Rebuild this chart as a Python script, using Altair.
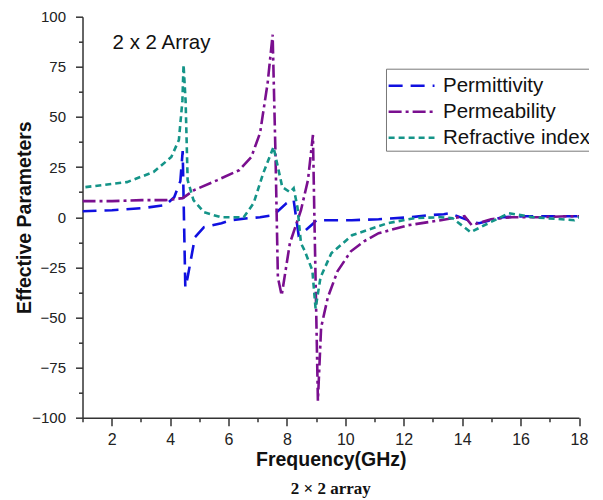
import altair as alt
import pandas as pd

series_names = ["Permittivity", "Permeability", "Refractive index"]
series_colors = ["#1010e0", "#7a0f8f", "#149488"]
series_dashes = [[14, 8], [13, 4, 3, 4], [6, 4]]

perm_x = [1, 2.01, 3.03, 3.84, 4.14, 4.35, 4.43, 4.52, 4.6, 4.85, 5.16, 5.76, 6.07, 6.68, 7.08, 7.54, 7.99, 8.23, 8.4, 8.6, 8.91, 9.01, 9.62, 10.22, 11.14, 12.25, 12.86, 13.37, 13.57, 14.38, 14.58, 15.39, 16.2, 17.2, 18]
perm_y = [3, 3.5, 4.5, 6, 10, 18, 33, -35, -30, -10, -5, -3, -1.5, -0.5, 0, 1, 7, 8.5, -9, -7, -3, -1.5, -1.5, -1.5, -1, 0, 1, 1.5, 2, -2.5, -3, 0, 0.5, 0.5, 0.5]

mu_x = [1, 2.01, 3.03, 3.84, 4.43, 4.82, 5.62, 6.37, 6.78, 7.08, 7.34, 7.51, 7.61, 7.69, 7.82, 8.1, 8.48, 8.72, 8.89, 8.94, 9.06, 9.17, 9.4, 9.73, 10.19, 10.64, 11.14, 12.15, 13.27, 13.67, 14.08, 14.33, 14.99, 15.7, 16.7, 17.7, 18]
mu_y = [8, 8, 8.5, 8.5, 9.5, 13.5, 18.5, 23.5, 30, 42, 67, 91, 30, -30, -39, -13, 3.5, 18.5, 41, 0, -91.5, -55, -40, -27, -17, -12, -8, -4, -1.5, -0.5, 0.5, -4, -1, 0, 0, 0.5, 0.5]

n_x = [1.1, 2.52, 3.43, 4.04, 4.3, 4.42, 4.46, 4.53, 4.6, 4.8, 5.16, 5.73, 6.52, 6.86, 7.19, 7.54, 7.69, 7.84, 8.1, 8.23, 8.36, 8.48, 8.6, 8.87, 8.98, 9.15, 9.52, 10.23, 11.45, 12.36, 13.27, 13.67, 14.29, 14.9, 15.6, 16.42, 17.84, 18]
n_y = [15, 17.5, 22.5, 30, 38.5, 58, 76, 58, 18.5, 8.5, 2.5, 0, 0, 7, 22, 35, 25, 15, 12.5, 14.5, 5, -13, -16.5, -26.5, -45.5, -30, -18, -9, -3, -0.5, 0, -0.5, -7.5, -3, 2, 0, -1.5, 0]

x_ticks = [1, 2, 3, 4, 5, 6, 7, 8, 9, 10, 11, 12, 13, 14, 15, 16, 17, 18]
y_ticks = [-100, -87.5, -75, -62.5, -50, -37.5, -25, -12.5, 0, 12.5, 25, 37.5, 50, 62.5, 75, 87.5, 100]

note_text = ["2 x 2 Array"]
note_x = [2.03]
note_y = [87]

rows = []
for name, xs, ys in zip(series_names, [perm_x, mu_x, n_x], [perm_y, mu_y, n_y]):
    for i, (a, b) in enumerate(zip(xs, ys)):
        rows.append({"series": name, "f": a, "v": b, "i": i})
df = pd.DataFrame(rows)

FONT = "Liberation Sans"

xscale = alt.Scale(domain=[1, 18], nice=False, zero=False)
yscale = alt.Scale(domain=[-100, 100], nice=False)

x_major = "datum.value % 2 === 0"
y_major = "datum.value % 25 === 0"

xaxis = alt.Axis(title="Frequency(GHz)", values=x_ticks, grid=False,
                 labelExpr=f"{x_major} ? format(datum.value, 'd') : ''",
                 labelOverlap=False, labelFlush=False,
                 domainColor="#333", domainWidth=1.5, tickColor="#333", tickWidth=1.5,
                 tickSize={"condition": {"test": x_major, "value": 8}, "value": 4},
                 labelFont=FONT, labelFontSize=16, labelColor="#222", labelPadding=6,
                 titleFont=FONT, titleFontSize=19.5, titleFontWeight="bold", titleColor="#111",
                 titlePadding=3)
yaxis = alt.Axis(title="Effective Parameters", values=y_ticks, grid=False,
                 labelExpr=f"{y_major} ? datum.label : ''", labelOverlap=False,
                 domainColor="#333", domainWidth=1.5, tickColor="#333", tickWidth=1.5,
                 tickSize={"condition": {"test": y_major, "value": 7}, "value": 4},
                 labelFont=FONT, labelFontSize=15, labelColor="#222", labelPadding=10,
                 titleFont=FONT, titleFontSize=19.5, titleFontWeight="bold", titleColor="#111",
                 titlePadding=-3)

lines = alt.Chart(df).mark_line(strokeWidth=2.6, clip=True).encode(
    x=alt.X("f:Q", scale=xscale, axis=xaxis),
    y=alt.Y("v:Q", scale=yscale, axis=yaxis),
    color=alt.Color("series:N", scale=alt.Scale(domain=series_names, range=series_colors),
                    legend=alt.Legend(title=None, orient="none", legendX=303.5, legendY=52,
                                      symbolType="M-1.05,0H2.3", symbolStrokeWidth=2.6, symbolSize=750,
                                      labelFont=FONT, labelFontSize=20.5, labelColor="#111",
                                      strokeColor="#777", padding=2, rowPadding=0, labelOffset=25,
                                      fillColor="white")),
    strokeDash=alt.StrokeDash("series:N", scale=alt.Scale(domain=series_names, range=series_dashes), legend=None),
    order="i:Q",
)

note = alt.Chart(pd.DataFrame({"t": note_text, "f": note_x, "v": note_y})).mark_text(
    align="left", baseline="middle", font=FONT, fontSize=20.5, color="#111"
).encode(x=alt.X("f:Q", scale=xscale, axis=xaxis), y=alt.Y("v:Q", scale=yscale, axis=yaxis), text="t:N")

chart = alt.layer(lines, note).properties(
    width=496.5, height=401,
    title=alt.TitleParams("2 × 2 array", orient="bottom", font="Liberation Serif", fontSize=17,
                          fontWeight="bold", color="#111", offset=12),
    autosize=alt.AutoSizeParams(type="none"),
    padding={"left": 74.5, "top": 8.7, "right": 10, "bottom": 80},
).configure_view(stroke=None)

chart.save("out.html", embed_options={"renderer": "svg", "actions": False})
